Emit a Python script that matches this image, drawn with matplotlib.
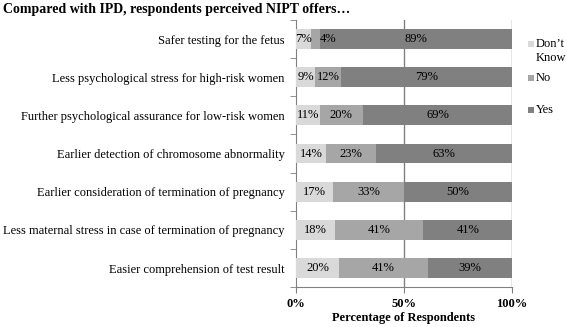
import matplotlib
matplotlib.use("Agg")
import matplotlib.pyplot as plt
from matplotlib.patches import Rectangle
import numpy as np

plt.rcParams['font.family'] = ['Liberation Serif', 'DejaVu Serif']

categories = [
    "Safer testing for the fetus",
    "Less psychological stress for high-risk women",
    "Further psychological assurance for low-risk women",
    "Earlier detection of chromosome abnormality",
    "Earlier consideration of termination of pregnancy",
    "Less maternal stress in case of termination of pregnancy",
    "Easier comprehension of test result",
]
dont_know = [7, 9, 11, 14, 17, 18, 20]
no = [4, 12, 20, 23, 33, 41, 41]
yes = [89, 79, 69, 63, 50, 41, 39]
series_names = ["Don\u2019t\nKnow", "No", "Yes"]
colors = ["#d9d9d9", "#a6a6a6", "#808080"]
xticks = [0, 50, 100]
xticklabels = ["0%", "50%", "100%"]

FS = 9
W, H = 567, 327

fig = plt.figure(figsize=(5.67, 3.27), dpi=100)
ax = fig.add_axes([0.522, 0.122, 0.381, 0.817])

y = np.arange(len(categories))
left = np.zeros(len(categories))
for vals, c in zip([dont_know, no, yes], colors):
    ax.barh(y, vals, left=left, height=0.52, color=c, zorder=3)
    for yi, l, v in zip(y, left, vals):
        if v < 6:
            ax.text(l + v, yi, f"{v}%", ha='left', va='center', fontsize=FS, zorder=4)
        else:
            ax.text(l + v / 2, yi, f"{v}%", ha='center', va='center', fontsize=FS, zorder=4)
    left = left + np.array(vals)

ax.set_xlim(0, 100)
ax.set_ylim(len(categories) - 0.5, -0.5)
ax.set_yticks(y)
ax.set_yticklabels(categories, fontsize=FS)
ax.tick_params(axis='y', which='major', length=0, pad=8)
ax.set_yticks(np.arange(-0.5, len(categories), 1), minor=True)
ax.tick_params(axis='y', which='minor', length=4, color='#808080', direction='out')
ax.set_xticks(xticks)
ax.set_xticklabels(xticklabels, fontsize=FS, fontweight='bold')
ax.tick_params(axis='x', length=4, color='#808080', direction='out', pad=4)
for v in [50, 100]:
    ax.axvline(v, color='#808080', lw=1, zorder=1)
for s in ['top', 'right']:
    ax.spines[s].set_visible(False)
for s in ['left', 'bottom']:
    ax.spines[s].set_color('#808080')
ax.set_xlabel("Percentage of Respondents", fontsize=FS, fontweight='bold', labelpad=1)

fig.text(3 / W, 1 - 10 / H, "Compared with IPD, respondents perceived NIPT offers\u2026",
         fontsize=10, fontweight='bold', ha='left', va='center')

# legend (manual layout: handle aligned with first line of each label)
leg_y = [44, 78, 110]
sq = 6
for name, c, ly in zip(series_names, colors, leg_y):
    fig.patches.append(Rectangle((528 / W, 1 - (ly + sq / 2) / H), sq / W, sq / H,
                                 transform=fig.transFigure, facecolor=c, edgecolor='none'))
    fig.text(536 / W, 1 - (ly - 6) / H, name, fontsize=FS, ha='left', va='top',
             linespacing=1.25)

fig.savefig("out.png", dpi=100)
